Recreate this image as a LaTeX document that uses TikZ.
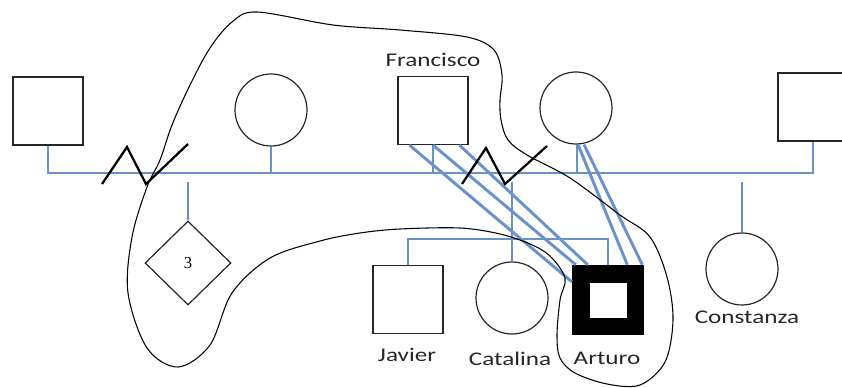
\documentclass[tikz,border=0pt]{standalone}
\usepackage{fontspec}
\setmainfont{Carlito}
\newfontfamily\lab[FakeStretch=1.3]{Carlito}
\newfontfamily\numfont{Liberation Serif}
\usetikzlibrary{shapes.geometric,calc}
\definecolor{famblue}{RGB}{106,146,202}
\begin{document}
\begin{tikzpicture}[x=0.75pt,y=-0.75pt,
  person/.style={draw=black!85, line width=0.9pt, fill=white, inner sep=0pt},
  male/.style={person, rectangle, minimum width=52.5pt, minimum height=51pt},
  female/.style={person, circle, minimum size=54pt},
  unknown/.style={person, diamond, minimum width=64.5pt, minimum height=63pt},
  lbl/.style={font=\lab\fontsize{14.5pt}{16pt}\selectfont, text=black!85, inner sep=0pt},
  fam/.style={draw=famblue, line width=2.2pt},
  rel/.style={draw=famblue, line width=2.2pt},
  divorce/.style={draw=black, line width=1.7pt},
  lasso/.style={draw=black, line width=0.8pt}]
\useasboundingbox (0,0) rectangle (842,388);
\clip (0,0) rectangle (842,388);

% people
\node[male] (L) at (48,111) {};
\node[female] (W) at (271,110) {};
\node[male] (F) at (433,110.5) {};
\node[female] (M) at (576,108) {};
\node[male] (R) at (813,107) {};
\node[unknown] (U) at (188,263) {\numfont\fontsize{12.5pt}{14pt}\selectfont 3};
\node[male] (J) at (408,299.5) {};
\node[female] (C) at (512,298) {};
\node[rectangle, fill=black, inner sep=0pt, minimum width=54pt, minimum height=52.5pt] (A) at (608,300) {};
\node[rectangle, fill=white, inner sep=0pt, minimum width=27.75pt, minimum height=26.25pt] (Ai) at (608.5,300.5) {};
\node[female] (K) at (742,269) {};

% labels
\node[lbl] (tF) at (433,60) {Francisco};
\node[lbl] (tJ) at (407,355) {Javier};
\node[lbl] (tC) at (510,359) {Catalina};
\node[lbl] (tA) at (607,358) {Arturo};
\node[lbl] (tK) at (747,317) {Constanza};

% family lines
\coordinate (mline) at (0,173);
\coordinate (cline) at (0,182);
\coordinate (sib) at (0,239);
\draw[fam] (L.south) -- (L.south |- mline) -- (R.south |- mline) -- (R.south);
\draw[fam] (W.south) -- (W.south |- mline);
\draw[fam] (F.south) -- (F.south |- mline);
\draw[fam] ($(M.south)+(1,0)$) -- ($(M.south |- mline)+(1,0)$);
\draw[fam] (U.north) -- (U.north |- cline);
\draw[fam] (K.north) -- (K.north |- cline);
\draw[fam] (C.north) -- (C.north |- cline);
\draw[fam] (J.north) -- (J.north |- sib) -- (A.north |- sib) -- (A.north);

% relationship lines
\draw[rel] ($(F.south west)+(12,0)$) -- ($(A.north west)+(0,17)$);
\draw[rel] (F.south) -- ($(A.north west)+(4,0)$);
\draw[rel] ($(F.south west)+(62,0)$) -- ($(A.north west)+(16,0)$);
\draw[rel] ($(M.south)+(2,0)$) -- ($(A.north east)+(-17,0)$);
\draw[rel] ($(M.south)+(8,0)$) -- ($(A.north east)+(-2,0)$);

% divorce marks
\draw[divorce] (102,184) -- (127,147) -- (146,184) -- (188,144);
\draw[divorce] (462,184) -- (486,148) -- (505,184) -- (547,146);

% lasso
\draw[lasso] plot[smooth cycle, tension=0.55] coordinates {
 (257,12) (333,25) (400,30) (467,37) (494,50) (502,75) (500,100) (501,120)
 (508,140) (527,155) (570,178) (620,215) (650,237) (667,277) (673,320)
 (665,362) (640,385) (607,384) (575,373) (560,358) (557,335) (560,300)
 (565,278) (550,256) (530,244) (500,234) (460,228) (400,229) (360,233)
 (320,241) (270,258) (232,293) (210,345) (178,367) (147,348) (128,293)
 (132,237) (147,187) (160,160) (172,125) (190,85) (210,48) (232,22)};
\end{tikzpicture}
\end{document}
